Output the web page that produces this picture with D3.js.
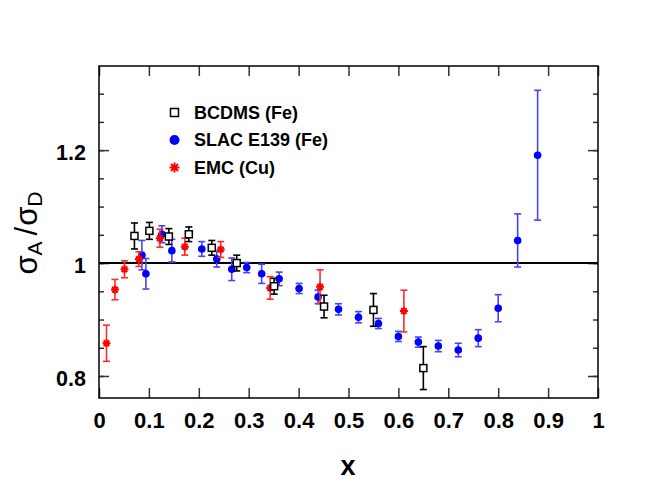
<!DOCTYPE html>
<html>
<head>
<meta charset="utf-8">
<script src="https://cdn.jsdelivr.net/npm/d3@7"></script>
<style>
  body { margin: 0; background: #fff; }
  svg { display: block; font-family: "Liberation Sans", Arial, sans-serif; }
</style>
</head>
<body>
<svg width="664" height="498"></svg>
<script>
// BCDMS (Fe)
var bcdmsX = [0.071, 0.101, 0.140, 0.180, 0.226, 0.276, 0.351, 0.451, 0.550, 0.650];
var bcdmsY = [1.048, 1.057, 1.047, 1.051, 1.027, 1.000, 0.959, 0.923, 0.917, 0.814];
var bcdmsE = [0.023, 0.015, 0.014, 0.013, 0.013, 0.014, 0.014, 0.020, 0.029, 0.038];

// SLAC E139 (Fe)
var slacX = [0.086, 0.094, 0.126, 0.146, 0.206, 0.236, 0.266, 0.296, 0.326, 0.361, 0.401, 0.439,
             0.480, 0.520, 0.560, 0.600, 0.640, 0.680, 0.720, 0.760, 0.800, 0.839, 0.879];
var slacY = [1.014, 0.981, 1.051, 1.022, 1.025, 1.007, 0.989, 0.992, 0.981, 0.972, 0.955, 0.940,
             0.918, 0.904, 0.893, 0.870, 0.860, 0.853, 0.846, 0.867, 0.920, 1.040, 1.191];
var slacE = [0.026, 0.027, 0.015, 0.020, 0.013, 0.014, 0.020, 0.009, 0.017, 0.012, 0.009, 0.012,
             0.010, 0.010, 0.009, 0.009, 0.009, 0.010, 0.012, 0.015, 0.024, 0.047, 0.115];

// EMC (Cu)
var emcX = [0.015, 0.032, 0.051, 0.080, 0.122, 0.172, 0.244, 0.343, 0.443, 0.611];
var emcY = [0.858, 0.953, 0.989, 1.007, 1.044, 1.029, 1.024, 0.956, 0.958, 0.915];
var emcE = [0.032, 0.018, 0.015, 0.013, 0.016, 0.015, 0.014, 0.020, 0.030, 0.037];

var xTicks = [0, 0.1, 0.2, 0.3, 0.4, 0.5, 0.6, 0.7, 0.8, 0.9, 1];
var xTickLabels = ["0", "0.1", "0.2", "0.3", "0.4", "0.5", "0.6", "0.7", "0.8", "0.9", "1"];
var yMajor = [0.8, 1.0, 1.2];
var yMajorLabels = ["0.8", "1", "1.2"];
var yMinor = [0.8, 0.85, 0.9, 0.95, 1.0, 1.05, 1.1, 1.15, 1.2, 1.25, 1.3];

var legendNames = ["BCDMS (Fe)", "SLAC E139 (Fe)", "EMC (Cu)"];

function zip(xs, ys, es) {
    return xs.map(function (x, i) { return { x: x, y: ys[i], e: es[i] }; });
}

var svg = d3.select("svg"),
    pLeft = 99, pRight = 598, pTop = 66, pBottom = 398;

var x = d3.scaleLinear().domain([0, 1]).range([pLeft, pRight]);
var y = d3.scaleLinear().domain([0.761, 1.349]).range([pBottom, pTop]);

// ticks, bottom + top
var xAxisB = d3.axisBottom(x).tickValues(xTicks).tickSizeInner(-10).tickSizeOuter(0)
    .tickFormat(function (d, i) { return xTickLabels[i]; });
var gxb = svg.append("g").attr("transform", "translate(0," + pBottom + ")").call(xAxisB);
gxb.select(".domain").remove();
gxb.selectAll(".tick line").attr("stroke", "#333").attr("stroke-width", 1.5);
gxb.selectAll(".tick text").attr("y", 30).attr("dy", null)
    .style("font-size", "22px").style("font-weight", "bold").attr("fill", "#000");

var gxt = svg.append("g").attr("transform", "translate(0," + pTop + ")")
    .call(d3.axisTop(x).tickValues(xTicks).tickSizeInner(-10).tickSizeOuter(0).tickFormat(""));
gxt.select(".domain").remove();
gxt.selectAll(".tick line").attr("stroke", "#333").attr("stroke-width", 1.5);

// y ticks both sides
function yTicks(vals, size, labels) {
    var gl = svg.append("g").attr("transform", "translate(" + pLeft + ",0)")
        .call(d3.axisLeft(y).tickValues(vals).tickSizeInner(-size).tickSizeOuter(0)
            .tickFormat(labels ? function (d, i) { return labels[i]; } : ""));
    gl.select(".domain").remove();
    gl.selectAll(".tick line").attr("stroke", "#333").attr("stroke-width", 1.5);
    var gr = svg.append("g").attr("transform", "translate(" + pRight + ",0)")
        .call(d3.axisRight(y).tickValues(vals).tickSizeInner(-size).tickSizeOuter(0).tickFormat(""));
    gr.select(".domain").remove();
    gr.selectAll(".tick line").attr("stroke", "#333").attr("stroke-width", 1.5);
    return gl;
}
yTicks(yMinor, 5);
var gyl = yTicks(yMajor, 10, yMajorLabels);
gyl.selectAll(".tick text").attr("x", -13).attr("dy", "0.42em")
    .style("font-size", "21.5px").style("font-weight", "bold").attr("fill", "#000");

// frame
svg.append("rect").attr("x", pLeft).attr("y", pTop)
    .attr("width", pRight - pLeft).attr("height", pBottom - pTop)
    .attr("fill", "none").attr("stroke", "#000").attr("stroke-width", 1.5);

// line at 1
svg.append("line").attr("x1", pLeft).attr("x2", pRight)
    .attr("y1", y(1)).attr("y2", y(1))
    .attr("stroke", "#000").attr("stroke-width", 2);

function errorBars(data, color) {
    var g = svg.append("g").attr("stroke", color).attr("stroke-width", 1.6);
    g.selectAll(".v").data(data).enter().append("line")
        .attr("x1", function (d) { return x(d.x); }).attr("x2", function (d) { return x(d.x); })
        .attr("y1", function (d) { return y(d.y - d.e); }).attr("y2", function (d) { return y(d.y + d.e); });
    [1, -1].forEach(function (s) {
        g.selectAll(".c" + (s > 0 ? "p" : "m")).data(data).enter().append("line")
            .attr("x1", function (d) { return x(d.x) - 3.5; }).attr("x2", function (d) { return x(d.x) + 3.5; })
            .attr("y1", function (d) { return y(d.y + s * d.e); }).attr("y2", function (d) { return y(d.y + s * d.e); });
    });
}

function star(g, cx, cy, r, color) {
    var d = "";
    [0, 45, 90, 135].forEach(function (a) {
        var t = a * Math.PI / 180, dx = r * Math.cos(t), dy = r * Math.sin(t);
        d += "M" + (cx - dx) + "," + (cy - dy) + "L" + (cx + dx) + "," + (cy + dy);
    });
    g.append("path").attr("d", d).attr("stroke", color).attr("stroke-width", 2).attr("fill", "none");
}

var slac = zip(slacX, slacY, slacE),
    emc = zip(emcX, emcY, emcE),
    bcdms = zip(bcdmsX, bcdmsY, bcdmsE);

// SLAC
errorBars(slac, "#4545ff");
svg.append("g").selectAll("circle").data(slac).enter().append("circle")
    .attr("cx", function (d) { return x(d.x); }).attr("cy", function (d) { return y(d.y); })
    .attr("r", 3.8).attr("fill", "#0000ff");

// EMC
errorBars(emc, "#ff2a2a");
var gs = svg.append("g");
emc.forEach(function (d) { star(gs, x(d.x), y(d.y), 4, "#ff0000"); });

// BCDMS
errorBars(bcdms, "#000");
svg.append("g").selectAll("rect").data(bcdms).enter().append("rect")
    .attr("x", function (d) { return x(d.x) - 3.5; }).attr("y", function (d) { return y(d.y) - 3.5; })
    .attr("width", 7).attr("height", 7)
    .attr("fill", "#fff").attr("stroke", "#000").attr("stroke-width", 1.5);

// legend
var lg = svg.append("g");
var ly = [112.5, 140, 167.5];
lg.append("rect").attr("x", 170.5).attr("y", ly[0] - 4).attr("width", 8).attr("height", 8)
    .attr("fill", "#fff").attr("stroke", "#000").attr("stroke-width", 1.5);
lg.append("circle").attr("cx", 174.5).attr("cy", ly[1]).attr("r", 5).attr("fill", "#0000ff");
star(lg, 174.5, ly[2], 5, "#ff0000");
lg.selectAll("text").data(legendNames).enter().append("text")
    .attr("x", 194).attr("y", function (d, i) { return ly[i] + 6; })
    .style("font-size", "18px").style("font-weight", "bold")
    .text(function (d) { return d; });

// axis titles
svg.append("text").attr("x", 348).attr("y", 475).attr("text-anchor", "middle")
    .style("font-size", "27px").style("font-weight", "bold").text("x");

var yt = svg.append("text").attr("transform", "translate(37,233) rotate(-90)")
    .attr("text-anchor", "middle").style("font-size", "31px");
yt.append("tspan").text("σ");
yt.append("tspan").attr("dy", 5).style("font-size", "21px").text("A");
yt.append("tspan").attr("dy", -5).attr("dx", 6).text("/");
yt.append("tspan").attr("dx", 1).text("σ");
yt.append("tspan").attr("dy", 5).style("font-size", "21px").text("D");
</script>
</body>
</html>
